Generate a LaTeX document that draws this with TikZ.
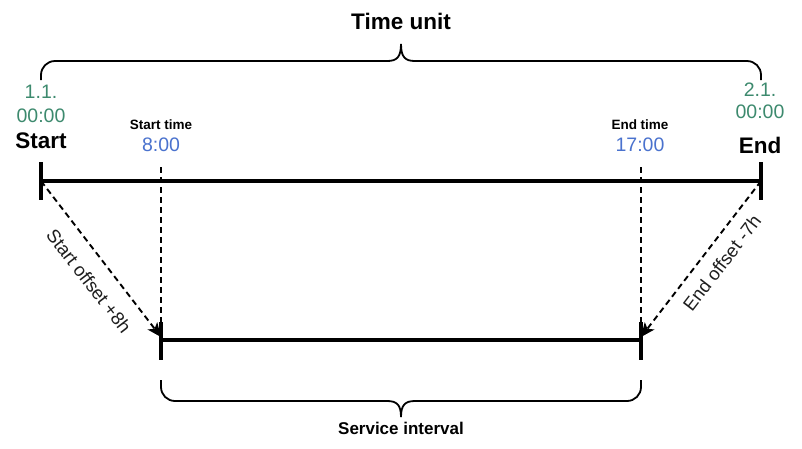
\documentclass[tikz,border=0pt]{standalone}
\usepackage{fontspec}
\setmainfont{Liberation Sans}
\usetikzlibrary{arrows.meta}
\definecolor{tgreen}{RGB}{61,138,110}
\definecolor{tblue}{RGB}{74,114,206}
\definecolor{tgray}{RGB}{30,30,30}
\begin{document}
\begin{tikzpicture}[x=1pt,y=-1pt,
  bar/.style={line width=3.2pt},
  bracepath/.style={line width=1.8pt},
  dashline/.style={line width=1.9pt, dash pattern=on 6pt off 4pt},
  arrowline/.style={dashline, -{Stealth[length=14pt,width=12pt,inset=3.5pt]}},
  bigbold/.style={inner sep=0pt, font=\bfseries\fontsize{22.5}{26}\selectfont},
  midbold/.style={inner sep=0pt, font=\bfseries\fontsize{17}{20}\selectfont},
  smallbold/.style={inner sep=0pt, font=\bfseries\fontsize{13.5}{16}\selectfont},
  datelbl/.style={inner sep=0pt, text=tgreen, font=\fontsize{19.5}{22}\selectfont},
  timelbl/.style={inner sep=0pt, text=tblue, font=\fontsize{19.5}{22}\selectfont},
  offlbl/.style={inner sep=0pt, text=tgray, font=\fontsize{18.5}{21}\selectfont}]
\useasboundingbox (0,0) rectangle (802,448);
\fill[white] (0,0) rectangle (802,448);

% title and top brace
\node[bigbold] (tu) at (401,21) {Time unit};
\draw[bracepath, rounded corners=14pt] (41,80) -- (41,61) -- (387,61);
\draw[bracepath] (387,61) .. controls (397,61) and (401,57) .. (401,44);
\draw[bracepath] (401,44) .. controls (401,57) and (405,61) .. (415,61);
\draw[bracepath, rounded corners=14pt] (415,61) -- (761,61) -- (761,80);

% left labels
\node[datelbl] (d1a) at (41,92) {1.1.};
\node[datelbl] (d1b) at (41,116) {00:00};
\node[bigbold] (startlbl) at (41,141) {Start};
% right labels
\node[datelbl] (d2a) at (760,90) {2.1.};
\node[datelbl] (d2b) at (760,112) {00:00};
\node[bigbold] (endlbl) at (760,145) {End};
% start/end time labels
\node[smallbold] (stl) at (161,125) {Start time};
\node[timelbl] (st) at (161,145) {8:00};
\node[smallbold] (etl) at (640,125) {End time};
\node[timelbl] (et) at (640,145) {17:00};

% coordinates
\coordinate (A) at (41,181);
\coordinate (B) at (761,181);
\coordinate (At) at (41,162);
\coordinate (Ab) at (41,200);
\coordinate (Bt) at (761,162);
\coordinate (Bb) at (761,200);
\coordinate (C) at (161,340);
\coordinate (D) at (641,340);
\coordinate (Ct) at (161,322);
\coordinate (Cb) at (161,360);
\coordinate (Dt) at (641,322);
\coordinate (Db) at (641,360);
\coordinate (Ctip) at (161,337);
\coordinate (Dtip) at (641,337);
\coordinate (Cv) at (161,167);
\coordinate (Dv) at (641,167);

% main time line
\draw[bar] (A) -- (B);
\draw[bar] (At) -- (Ab);
\draw[bar] (Bt) -- (Bb);
% dashed verticals
\draw[dashline] (Cv) -- (Ct);
\draw[dashline] (Dv) -- (Dt);
% offset arrows
\draw[arrowline] (A) -- (Ctip);
\draw[arrowline] (B) -- (Dtip);
\node[offlbl, rotate=-52.4] (so) at (89,281) {Start offset +8h};
\node[offlbl, rotate=52.4] (eo) at (722,263) {End offset -7h};
% service interval line
\draw[bar] (C) -- (D);
\draw[bar] (Ct) -- (Cb);
\draw[bar] (Dt) -- (Db);

% bottom brace
\draw[bracepath, rounded corners=14pt] (161,380) -- (161,401) -- (387,401);
\draw[bracepath] (387,401) .. controls (397,401) and (401,405) .. (401,417);
\draw[bracepath] (401,417) .. controls (401,405) and (405,401) .. (415,401);
\draw[bracepath, rounded corners=14pt] (415,401) -- (641,401) -- (641,380);
\node[midbold] (si) at (401,428) {Service interval};
\end{tikzpicture}
\end{document}
